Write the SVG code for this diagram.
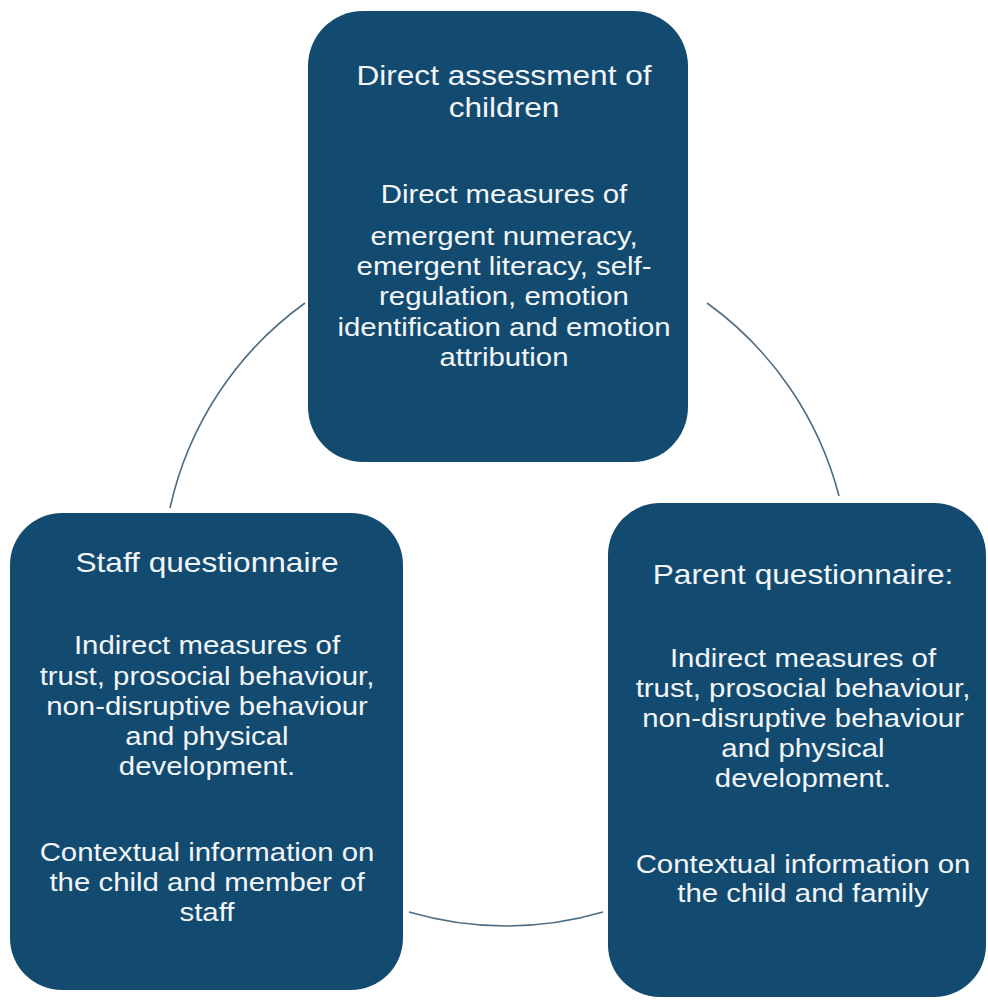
<svg xmlns="http://www.w3.org/2000/svg" width="988" height="1001" viewBox="0 0 988 1001">
<style>
.box{fill:#134b70}
.conn{fill:none;stroke:#4e6d82;stroke-width:1.6}
text{font-family:"Liberation Sans",Arial,sans-serif;fill:#f2f5f8;text-anchor:middle}
.h{font-size:28px}
.b{font-size:26px}
</style>
<rect width="988" height="1001" fill="#ffffff"/>
<g id="connectors">
<path class="conn" d="M170 508 A344 344 0 0 1 305 303"/>
<path class="conn" d="M707 303 A344 344 0 0 1 839 496"/>
<path class="conn" d="M603 912 A344 344 0 0 1 409 912"/>
</g>
<g id="node-direct">
<rect class="box" x="308" y="11" width="380" height="451" rx="55"/>
<g transform="translate(504,0) scale(1.13,1)">
<text class="h" x="0" y="85">Direct assessment of</text>
<text class="h" x="0" y="117">children</text>
<text class="b" x="0" y="203">Direct measures of</text>
<text class="b" x="0" y="245">emergent numeracy,</text>
<text class="b" x="0" y="275">emergent literacy, self-</text>
<text class="b" x="0" y="305">regulation, emotion</text>
<text class="b" x="0" y="336">identification and emotion</text>
<text class="b" x="0" y="366">attribution</text>
</g>
</g>
<g id="node-staff">
<rect class="box" x="10" y="513" width="393" height="477" rx="52"/>
<g transform="translate(207,0) scale(1.13,1)">
<text class="h" x="0" y="572">Staff questionnaire</text>
<text class="b" x="0" y="654">Indirect measures of</text>
<text class="b" x="0" y="685">trust, prosocial behaviour,</text>
<text class="b" x="0" y="715">non-disruptive behaviour</text>
<text class="b" x="0" y="745">and physical</text>
<text class="b" x="0" y="775">development.</text>
<text class="b" x="0" y="861">Contextual information on</text>
<text class="b" x="0" y="891">the child and member of</text>
<text class="b" x="0" y="921">staff</text>
</g>
</g>
<g id="node-parent">
<rect class="box" x="608" y="503" width="378" height="494" rx="52"/>
<g transform="translate(803,0) scale(1.13,1)">
<text class="h" x="0" y="584">Parent questionnaire:</text>
<text class="b" x="0" y="667">Indirect measures of</text>
<text class="b" x="0" y="697">trust, prosocial behaviour,</text>
<text class="b" x="0" y="727">non-disruptive behaviour</text>
<text class="b" x="0" y="757">and physical</text>
<text class="b" x="0" y="787">development.</text>
<text class="b" x="0" y="873">Contextual information on</text>
<text class="b" x="0" y="902">the child and family</text>
</g>
</g>
</svg>
